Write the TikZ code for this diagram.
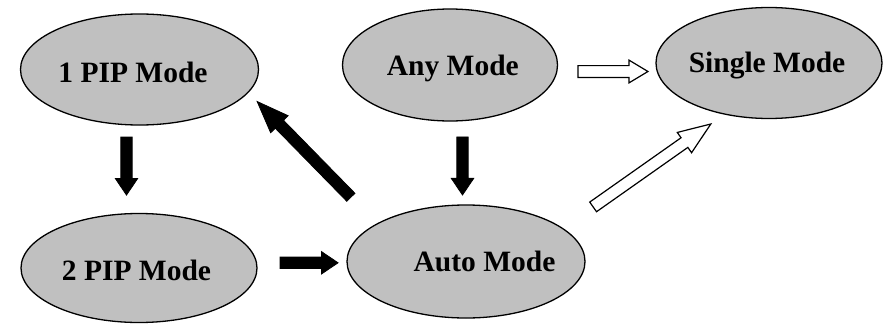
\documentclass[tikz,border=0pt]{standalone}
\usepackage{fontspec}
\setmainfont{Liberation Serif}
\usepackage{xcolor}
\usepackage{tikz}
\usetikzlibrary{shapes}
\definecolor{modegray}{RGB}{192,192,192}

\begin{document}
\begin{tikzpicture}[x=1pt, y=-1pt,
    mode/.style={ellipse, draw, line width=1.3pt, fill=modegray, inner sep=0pt},
    lbl/.style={font=\fontsize{29.5}{31}\selectfont\bfseries, anchor=base, inner sep=0pt},
    arr/.style={single arrow, draw, inner sep=0pt, text height=5.3pt, text depth=5.3pt,
        single arrow head extend=5.5pt, single arrow tip angle=68, single arrow head indent=0pt,
        sloped, allow upside down},
    blk/.style={arr, fill=black, line width=0.8pt},
    hollow/.style={arr, fill=white, line width=1.2pt}]
    \useasboundingbox (0,0) rectangle (888,324);

    \node[mode, minimum width=238, minimum height=111] (pip1) at (139.5,69.5) {};
    \node[mode, minimum width=236, minimum height=109] (pip2) at (139,268) {};
    \node[mode, minimum width=215, minimum height=112] (any) at (450,65) {};
    \node[mode, minimum width=226, minimum height=111] (single) at (769,63) {};
    \node[mode, minimum width=238, minimum height=113] (auto) at (466,261.5) {};

    \node[lbl] (lpip1) at (133,82.3) {1 PIP Mode};
    \node[lbl] (lpip2) at (136.5,280) {2 PIP Mode};
    \node[lbl] (lany) at (452.8,75.7) {Any Mode};
    \node[lbl] (lsingle) at (767,72.3) {Single Mode};
    \node[lbl] (lauto) at (484.5,271.7) {Auto Mode};

    \path ([xshift=-13pt]pip1.south) -- ([xshift=-12.5pt]pip2.north)
        node[blk, pos=0.415, minimum height=58pt] (a12) {};
    \path ([yshift=5.2pt]pip2.east) -- ([yshift=-1.3pt]auto.west)
        node[blk, pos=0.532, minimum height=58pt] (a2a) {};
    \path (auto.157.5) -- (pip1.-12.9)
        node[blk, pos=0.526, minimum height=134pt, single arrow head extend=6.5pt,
            single arrow tip angle=42] (aa1) {};
    \path ([xshift=12.5pt]any.south) -- ([xshift=-3.5pt]auto.north)
        node[blk, pos=0.485, minimum height=58pt] (aya) {};
    \path ([yshift=-6.5pt]any.east) -- ([yshift=-8.5pt]single.west)
        node[hollow, pos=0.513, minimum height=70pt, single arrow tip angle=62] (ays) {};
    \path (auto.19.4) -- (single.-131.3)
        node[hollow, pos=0.513, minimum height=144pt, single arrow head extend=6.5pt,
            single arrow tip angle=42] (aas) {};
\end{tikzpicture}
\end{document}
